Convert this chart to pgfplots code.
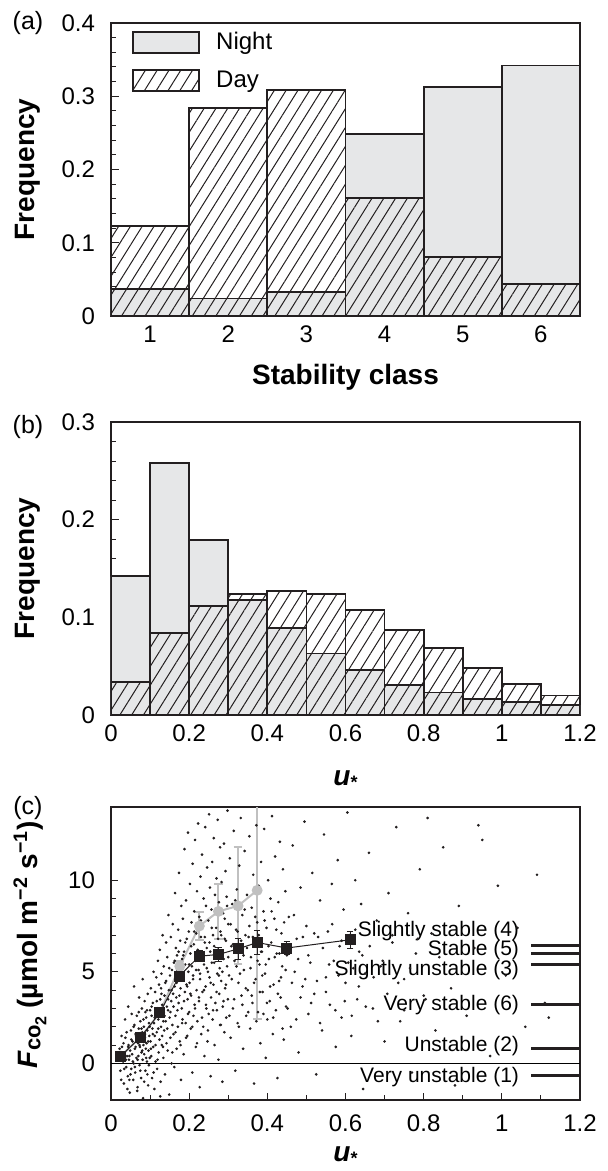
\documentclass[border=0pt]{standalone}
\usepackage{fontspec}
\setmainfont{Liberation Sans}
\usepackage{pgfplots}
\pgfplotsset{compat=1.18}
\usetikzlibrary{patterns.meta}
\definecolor{nightgray}{HTML}{E6E7E8}
\definecolor{meangray}{HTML}{C0C0C0}
\definecolor{ink}{HTML}{231F20}

\pgfplotsset{
  panel/.style={
    scale only axis, width=234.5pt, height=146.5pt,
    axis line style={line width=0.6pt, ink},
    tick align=inside, xtick pos=bottom, ytick pos=left,
    major tick length=4pt, minor tick length=2.5pt,
    every tick/.style={ink, line width=0.5pt},
    tick label style={font=\fontsize{12}{14}\selectfont},
    /pgf/number format/assume math mode=true,
    label style={font=\fontsize{14}{16}\selectfont\bfseries},
    yticklabel style={xshift=-4.5pt},
    xticklabel style={yshift=-1.5pt},
    ylabel style={at={(axis description cs:-0.177,0.5)}, anchor=center},
    xlabel style={at={(axis description cs:0.5,-0.21)}, anchor=center},
  },
  night/.style={ybar, bar shift=0pt, bar width=#1, fill=nightgray, draw=ink, line width=0.9pt},
  day/.style={ybar, bar shift=0pt, bar width=#1, draw=ink, line width=0.9pt,
    pattern={Lines[angle=58,distance=5pt,line width=0.5pt]}, pattern color=ink},
}
\newcommand{\ustar}{\textbf{\textit{u}}\raisebox{-0.25ex}{\fontsize{9}{9}\selectfont\bfseries *}}

\begin{document}
\begin{tikzpicture}
\useasboundingbox (-55.5pt,11.5pt) rectangle (248.5pt,-574pt);

% (a) stability classes
\begin{axis}[panel, name=A, at={(0,0)}, anchor=north west,
  xmin=0.5, xmax=6.5, ymin=0, ymax=0.4,
  xtick={1,2,3,4,5,6}, xtick style={draw=none},
  ytick={0,0.1,0.2,0.3,0.4}, minor y tick num=4,
  xlabel={Stability class}, ylabel={Frequency},
  legend image code/.code={\draw[#1,/tikz/.cd] (0pt,-5.25pt) rectangle (33pt,5.25pt);},
  legend style={at={(rel axis cs:0,1)}, anchor=north west, xshift=10.5pt, yshift=-3.5pt,
    draw=none, fill=none, inner sep=0pt, row sep=7pt,
    font=\fontsize{12}{14}\selectfont, nodes={inner sep=1pt},
    /tikz/every odd column/.append style={column sep=7pt}},
  legend cell align=left,
]
\addplot[night=1] coordinates {(1,0.037)(2,0.024)(3,0.033)(4,0.249)(5,0.313)(6,0.342)};
\addlegendentry{Night}
\addplot[day=1] coordinates {(1,0.123)(2,0.284)(3,0.308)(4,0.161)(5,0.080)(6,0.044)};
\addlegendentry{Day}
\end{axis}
\node[font=\fontsize{12.5}{14}\selectfont] at ([xshift=-41.5pt]A.north west) {(a)};

% (b) u* histogram
\begin{axis}[panel, name=B, at={(0,-199.5pt)}, anchor=north west,
  xmin=0, xmax=1.2, ymin=0, ymax=0.3,
  xtick={0,0.2,0.4,0.6,0.8,1,1.2}, xtick style={draw=none},
  ytick={0,0.1,0.2,0.3}, minor y tick num=4,
  xlabel={\ustar}, ylabel={Frequency},
  xlabel style={at={(axis description cs:0.5,-0.22)}},
]
\addplot[night=0.1] coordinates {(0.05,0.142)(0.15,0.258)(0.25,0.179)(0.35,0.118)(0.45,0.0887)(0.55,0.063)
  (0.65,0.046)(0.75,0.031)(0.85,0.023)(0.95,0.016)(1.05,0.0137)(1.15,0.010)};
\addplot[day=0.1] coordinates {(0.05,0.034)(0.15,0.084)(0.25,0.112)(0.35,0.1235)(0.45,0.127)(0.55,0.1235)
  (0.65,0.1075)(0.75,0.087)(0.85,0.069)(0.95,0.048)(1.05,0.032)(1.15,0.020)};
\end{axis}
\node[font=\fontsize{12.5}{14}\selectfont] at ([xshift=-41.5pt,yshift=-2.5pt]B.north west) {(b)};

% (c) CO2 flux versus u*
\begin{axis}[panel, name=C, at={(0,-392pt)}, anchor=north west,
  xmin=0, xmax=1.2, ymin=-2, ymax=14,
  xtick={0,0.2,0.4,0.6,0.8,1,1.2}, minor x tick num=1,
  ytick={0,5,10}, minor y tick num=4,
  major tick length=3.5pt, minor tick length=2.5pt,
  xlabel={\ustar},
  ylabel={\textit{F}\raisebox{-0.2ex}{\fontsize{11}{11}\selectfont co}\raisebox{-0.6ex}{\fontsize{8}{8}\selectfont 2} (µmol m\textsuperscript{−2} s\textsuperscript{−1})},
  ylabel style={at={(axis description cs:-0.173,0.53)}},
  xlabel style={at={(axis description cs:0.5,-0.19)}},
  xticklabel style={yshift=-2.5pt},
]
\addplot[black, line width=0.4pt] coordinates {(0,0)(1.2,0)};
\addplot[only marks, mark=*, mark size=0.45pt, ink] coordinates {
(0.021,0.3)(0.024,-0.4)(0.028,0.9)(0.031,0.1)(0.033,-1.1)(0.035,0.6)(0.037,1.4)(0.039,-0.2)(0.041,0.4)(0.043,-0.7)
(0.045,1.0)(0.046,0.2)(0.048,-1.6)(0.049,0.7)(0.051,1.8)(0.052,-0.3)(0.054,0.5)(0.055,1.2)(0.057,-0.9)(0.058,0.0)
(0.060,2.1)(0.061,0.8)(0.062,-0.5)(0.064,1.5)(0.065,0.3)(0.066,2.6)(0.068,-1.3)(0.069,1.1)(0.070,0.4)(0.071,1.9)
(0.073,-0.1)(0.074,0.9)(0.075,2.3)(0.076,1.3)(0.077,-0.8)(0.078,0.6)(0.079,3.0)(0.080,1.7)(0.081,0.2)(0.082,-1.9)
(0.083,1.0)(0.084,2.0)(0.085,0.5)(0.086,3.4)(0.087,1.4)(0.088,-0.4)(0.089,0.8)(0.090,2.5)(0.091,1.1)(0.092,0.1)
(0.093,1.8)(0.094,3.8)(0.095,-1.2)(0.096,0.7)(0.097,2.2)(0.098,1.5)(0.099,0.3)(0.100,2.9)(0.036,2.4)(0.044,3.1)
(0.059,4.2)(0.067,-1.5)(0.072,3.6)(0.053,2.7)(0.047,-0.9)(0.063,1.6)(0.081,4.6)(0.088,2.8)(0.093,-0.6)(0.027,1.5)
(0.101,1.2)(0.102,4.1)(0.103,0.4)(0.104,2.6)(0.105,-0.8)(0.106,1.9)(0.107,3.3)(0.108,0.9)(0.109,5.0)(0.110,2.2)
(0.111,-1.4)(0.112,1.5)(0.113,3.9)(0.114,0.1)(0.115,2.8)(0.116,4.7)(0.117,1.7)(0.118,-0.3)(0.119,3.0)(0.120,5.6)
(0.121,2.4)(0.122,0.6)(0.123,4.3)(0.124,1.3)(0.125,6.2)(0.126,3.5)(0.127,-1.0)(0.128,2.0)(0.129,4.9)(0.130,1.0)
(0.131,3.2)(0.132,7.0)(0.133,2.7)(0.134,0.3)(0.135,5.3)(0.136,1.8)(0.137,3.7)(0.138,-0.6)(0.139,4.4)(0.140,2.3)
(0.141,6.6)(0.142,1.1)(0.143,3.1)(0.144,5.8)(0.145,0.7)(0.146,2.9)(0.147,8.1)(0.148,4.0)(0.149,-1.7)(0.150,2.5)
(0.151,4.8)(0.152,1.4)(0.153,6.9)(0.154,3.4)(0.155,0.0)(0.156,5.1)(0.157,2.1)(0.158,7.6)(0.159,3.8)(0.160,1.6)
(0.161,5.5)(0.162,-0.2)(0.163,4.2)(0.164,9.3)(0.165,2.6)(0.166,6.3)(0.167,3.6)(0.168,0.8)(0.169,5.9)(0.170,4.5)
(0.171,2.0)(0.172,7.3)(0.173,3.3)(0.174,10.4)(0.175,5.2)(0.176,1.2)(0.177,6.7)(0.178,4.1)(0.179,-0.9)(0.180,8.6)
(0.181,3.0)(0.182,5.7)(0.183,2.4)(0.184,7.9)(0.185,4.6)(0.186,0.5)(0.187,6.1)(0.188,11.7)(0.189,3.9)(0.190,5.4)
(0.191,2.2)(0.192,8.9)(0.193,4.3)(0.194,6.8)(0.195,1.5)(0.196,3.5)(0.197,12.6)(0.198,5.0)(0.199,7.2)(0.200,2.8)
(0.201,4.4)(0.202,9.8)(0.203,6.0)(0.204,1.9)(0.205,3.7)(0.206,7.7)(0.207,5.3)(0.208,-0.5)(0.209,10.9)(0.210,4.8)
(0.211,2.6)(0.212,6.5)(0.213,8.3)(0.214,3.2)(0.215,12.2)(0.216,5.6)(0.217,0.9)(0.218,7.1)(0.219,4.0)(0.220,9.4)
(0.221,2.3)(0.222,6.2)(0.223,13.1)(0.224,5.1)(0.225,3.4)(0.226,8.0)(0.227,-1.3)(0.228,4.6)(0.229,10.2)(0.230,6.9)
(0.231,1.6)(0.232,5.8)(0.233,11.4)(0.234,3.9)(0.235,7.5)(0.236,2.0)(0.237,9.0)(0.238,5.4)(0.239,0.4)(0.240,6.6)
(0.241,12.9)(0.242,4.2)(0.243,8.6)(0.244,3.0)(0.245,6.3)(0.246,10.7)(0.247,1.2)(0.248,5.0)(0.249,7.8)(0.250,2.7)
(0.251,13.6)(0.252,4.7)(0.253,9.6)(0.254,6.1)(0.255,-0.7)(0.256,3.6)(0.257,8.4)(0.258,5.5)(0.259,11.0)(0.260,2.4)
(0.261,7.0)(0.262,4.3)(0.263,12.3)(0.264,6.4)(0.265,1.0)(0.266,9.2)(0.267,3.3)(0.268,5.9)(0.269,7.4)(0.270,10.1)
(0.271,2.9)(0.272,4.9)(0.273,13.3)(0.274,6.8)(0.275,0.2)(0.276,8.8)(0.277,3.8)(0.278,5.2)(0.279,11.8)(0.280,7.2)
(0.281,2.1)(0.282,4.5)(0.283,9.9)(0.284,6.0)(0.285,-1.0)(0.286,3.1)(0.287,8.2)(0.288,5.7)(0.289,12.0)(0.290,1.7)
(0.291,7.9)(0.292,4.1)(0.293,10.5)(0.294,6.7)(0.295,2.5)(0.296,9.1)(0.297,5.3)(0.298,13.8)(0.299,3.5)(0.300,7.6)
(0.302,4.8)(0.304,11.2)(0.306,1.4)(0.308,6.4)(0.310,8.7)(0.312,3.0)(0.314,12.7)(0.316,5.6)(0.318,-0.4)(0.320,7.3)
(0.322,9.5)(0.324,2.2)(0.326,4.4)(0.328,10.8)(0.330,6.2)(0.332,13.4)(0.334,3.7)(0.336,8.1)(0.338,0.8)(0.340,5.1)
(0.342,11.6)(0.344,7.0)(0.346,2.6)(0.348,9.2)(0.350,4.0)(0.352,6.9)(0.354,12.4)(0.356,1.9)(0.358,5.8)(0.360,8.5)
(0.362,3.3)(0.364,10.3)(0.366,-1.1)(0.368,6.5)(0.370,4.6)(0.372,13.0)(0.374,7.7)(0.376,2.8)(0.378,9.7)(0.380,5.4)
(0.382,1.1)(0.384,11.0)(0.386,6.1)(0.388,3.9)(0.390,8.3)(0.392,12.8)(0.394,4.9)(0.396,0.3)(0.398,7.4)(0.400,2.4)
(0.402,10.0)(0.404,5.7)(0.406,3.4)(0.408,9.0)(0.410,6.6)(0.412,13.5)(0.414,1.6)(0.416,4.3)(0.418,7.9)(0.420,11.3)
(0.422,2.9)(0.424,6.0)(0.426,-0.8)(0.428,8.8)(0.430,4.5)(0.432,12.1)(0.434,3.6)(0.436,7.1)(0.438,5.3)(0.440,10.6)
(0.442,1.3)(0.444,6.3)(0.446,9.4)(0.448,3.1)(0.450,5.9)
(0.455,8.0)(0.46,2.0)(0.465,11.9)(0.47,5.0)(0.475,6.8)(0.48,0.6)(0.485,9.6)(0.49,4.2)(0.495,13.2)(0.50,7.5)
(0.505,2.7)(0.51,5.5)(0.515,10.4)(0.52,3.8)(0.525,-0.6)(0.53,6.9)(0.535,8.9)(0.54,1.8)(0.545,12.5)(0.55,4.7)
(0.555,7.2)(0.56,3.2)(0.565,9.8)(0.57,5.6)(0.575,0.9)(0.58,11.1)(0.585,6.4)(0.59,2.5)(0.595,8.4)(0.60,4.4)
(0.605,13.7)(0.61,7.0)(0.615,1.5)(0.62,5.2)(0.625,10.0)(0.63,3.5)(0.635,6.1)(0.64,8.7)(0.645,-1.4)(0.65,4.9)
(0.66,11.5)(0.67,3.0)(0.68,7.8)(0.69,5.3)(0.70,1.2)(0.71,9.3)(0.72,6.6)(0.73,12.9)(0.74,2.3)(0.75,4.6)
(0.76,8.2)(0.77,-0.5)(0.78,6.0)(0.79,10.6)(0.80,3.7)(0.81,13.4)(0.82,7.1)(0.83,1.8)(0.84,5.8)(0.85,11.8)
(0.87,4.1)(0.89,8.6)(0.91,2.6)(0.93,6.3)(0.95,12.2)(0.97,0.4)(0.99,9.7)(1.01,4.8)(1.04,7.4)(1.06,2.0)
(1.09,10.3)(1.11,3.3)(1.12,2.5)(0.88,-1.2)(0.94,13.0)
(0.022,0.8)(0.026,-0.9)(0.029,0.5)(0.032,1.1)(0.034,-0.3)(0.038,0.2)(0.040,1.7)(0.042,-1.4)(0.044,0.9)(0.047,0.4)
(0.050,-0.6)(0.052,1.3)(0.056,0.1)(0.058,2.0)(0.061,-0.2)(0.063,0.9)(0.066,1.4)(0.068,0.2)(0.071,2.8)(0.073,1.0)
(0.075,-0.4)(0.078,1.9)(0.080,0.7)(0.083,2.4)(0.085,-1.0)(0.087,1.6)(0.090,0.3)(0.092,2.9)(0.095,1.2)(0.097,-0.1)
(0.099,2.0)(0.102,0.8)(0.104,3.1)(0.107,1.6)(0.109,-0.5)(0.112,2.5)(0.114,1.0)(0.117,3.4)(0.119,0.2)(0.121,1.9)
(0.124,2.9)(0.126,-1.8)(0.129,3.8)(0.131,1.5)(0.134,2.3)
(0.128,4.1)(0.133,0.9)(0.137,2.6)(0.141,4.5)(0.144,1.9)(0.146,3.5)(0.149,5.2)(0.152,2.8)(0.155,4.0)(0.157,0.6)
(0.160,3.1)(0.163,5.6)(0.165,1.7)(0.168,4.4)(0.170,2.9)(0.173,6.1)(0.175,3.7)(0.178,1.0)(0.180,4.9)(0.182,2.2)
(0.185,5.9)(0.187,3.4)(0.190,6.6)(0.192,1.4)(0.195,4.2)(0.197,2.7)(0.200,5.4)(0.203,3.8)(0.205,6.4)(0.208,2.0)
(0.210,4.6)(0.213,7.2)(0.215,3.0)(0.218,5.1)(0.220,1.1)(0.223,6.0)(0.225,3.6)(0.228,4.9)(0.230,7.8)(0.233,2.5)
(0.235,5.7)(0.238,4.0)(0.240,6.9)(0.243,3.2)(0.245,5.2)(0.248,1.8)
(0.252,6.6)(0.255,4.4)(0.258,7.4)(0.261,2.9)(0.264,5.5)(0.267,8.2)(0.270,3.9)(0.273,6.2)(0.276,4.8)(0.279,2.1)
(0.282,7.0)(0.285,5.0)(0.288,3.4)(0.291,6.8)(0.294,4.3)(0.297,8.6)(0.300,5.8)(0.303,2.6)(0.306,7.6)(0.309,4.6)
(0.312,6.5)(0.315,3.5)(0.318,8.9)(0.321,5.3)(0.324,7.2)(0.327,2.0)(0.330,4.9)(0.333,6.7)(0.336,3.2)(0.339,5.9)
(0.342,8.4)(0.345,4.1)(0.348,6.3)(0.351,2.8)(0.354,7.5)(0.357,5.2)(0.360,3.7)(0.363,6.9)(0.366,4.4)(0.369,8.0)
(0.372,2.3)(0.375,5.6)(0.378,7.0)(0.381,3.9)(0.384,6.1)(0.387,4.8)(0.390,2.7)(0.393,7.8)(0.396,5.4)(0.399,3.3)
(0.403,6.4)(0.407,4.2)(0.411,8.3)(0.415,2.5)(0.419,5.8)(0.423,7.3)(0.427,3.8)(0.431,6.0)(0.435,4.7)(0.439,1.9)
(0.443,7.7)(0.447,5.1)(0.452,3.0)(0.458,6.5)(0.463,4.4)(0.468,8.1)(0.474,2.4)(0.479,5.7)(0.485,3.6)(0.491,6.9)
(0.497,4.6)
(0.505,5.9)(0.512,3.3)(0.52,7.1)(0.527,4.5)(0.535,2.2)(0.542,6.3)(0.55,3.9)(0.558,5.4)(0.566,7.6)(0.574,2.9)
(0.582,4.8)(0.59,6.7)(0.598,3.4)(0.607,5.5)(0.616,2.6)(0.625,7.3)(0.634,4.2)(0.643,5.9)(0.652,3.1)(0.662,6.4)
(0.672,4.7)(0.683,2.3)(0.695,5.6)(0.707,3.8)(0.72,7.0)(0.735,4.4)(0.75,2.9)(0.765,5.2)(0.785,6.8)(0.805,3.5)
};
% night-time bin means (grey)
\addplot[meangray, line width=1pt, mark=*, mark size=2.2pt,
  error bars/.cd, y dir=both, y explicit,
  error bar style={meangray, line width=1pt},
  error mark options={rotate=90, meangray, mark size=2.2pt, line width=1pt}]
  coordinates {(0.025,0.4) +- (0,0.1) (0.076,1.44) +- (0,0.15) (0.125,2.76) +- (0,0.2)
  (0.176,5.3) +- (0,0.3) (0.226,7.5) +- (0,0.75) (0.275,8.3) +- (0,1.5)
  (0.325,8.6) +- (0,3.2) (0.374,9.45) +- (0,7.0)};
% all-data bin means (black)
\addplot[ink, line width=0.5pt, mark=square*, mark size=2.5pt,
  error bars/.cd, y dir=both, y explicit,
  error bar style={ink, line width=0.5pt},
  error mark options={rotate=90, ink, mark size=1.6pt, line width=0.5pt}]
  coordinates {(0.025,0.40) +- (0,0.1) (0.076,1.44) +- (0,0.15) (0.125,2.76) +- (0,0.2)
  (0.174,4.76) +- (0,0.3) (0.226,5.85) +- (0,0.3) (0.275,5.95) +- (0,0.4)
  (0.325,6.25) +- (0,0.55) (0.374,6.60) +- (0,0.65) (0.450,6.30) +- (0,0.35)
  (0.612,6.75) +- (0,0.45)};
% class means
\addplot[ink, line width=1.5pt] coordinates {(1.075,6.44)(1.2,6.44)};
\addplot[ink, line width=1.5pt] coordinates {(1.075,6.00)(1.2,6.00)};
\addplot[ink, line width=1.5pt] coordinates {(1.075,5.42)(1.2,5.42)};
\addplot[ink, line width=1.5pt] coordinates {(1.075,3.20)(1.2,3.20)};
\addplot[ink, line width=1.5pt] coordinates {(1.075,0.84)(1.2,0.84)};
\addplot[ink, line width=1.5pt] coordinates {(1.075,-0.67)(1.2,-0.67)};
\begin{scope}[every node/.style={anchor=east, font=\fontsize{10.5}{12}\selectfont, inner sep=1pt}]
\node at (axis cs:1.05,7.25) {Slightly stable (4)};
\node at (axis cs:1.05,6.2) {Stable (5)};
\node at (axis cs:1.05,5.1) {Slightly unstable (3)};
\node at (axis cs:1.05,3.2) {Very stable (6)};
\node at (axis cs:1.05,0.95) {Unstable (2)};
\node at (axis cs:1.05,-0.75) {Very unstable (1)};
\end{scope}
\end{axis}
\node[font=\fontsize{12.5}{14}\selectfont] at ([xshift=-41.5pt,yshift=-0.5pt]C.north west) {(c)};
\end{tikzpicture}
\end{document}
